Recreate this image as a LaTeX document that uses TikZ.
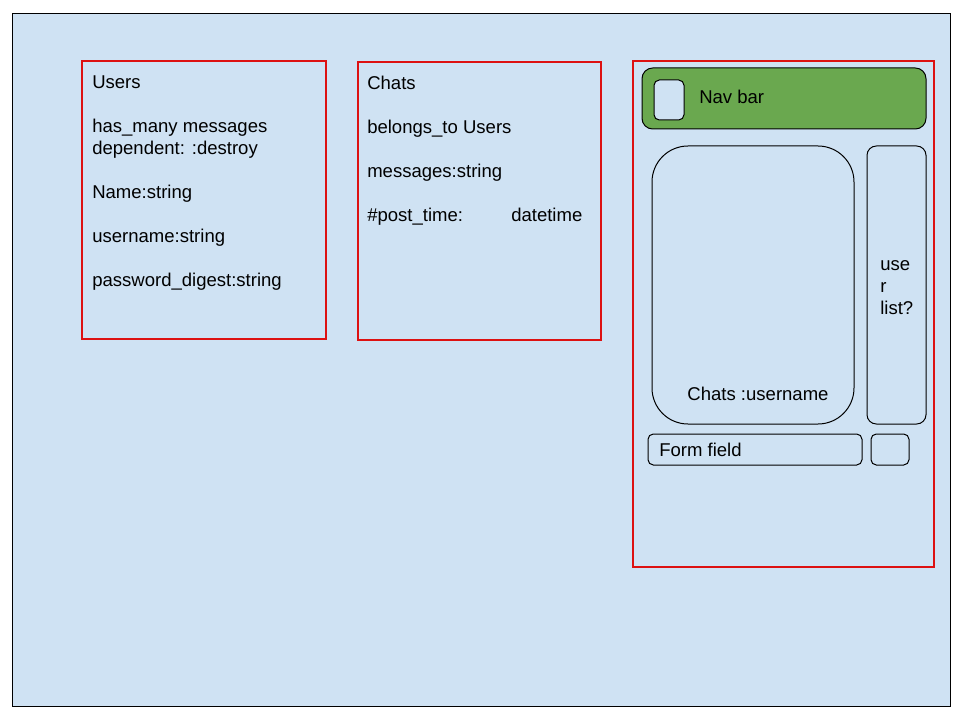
\documentclass[tikz,border=0pt]{standalone}
\usepackage{fontspec}
\setmainfont{Liberation Sans}
\definecolor{bgblue}{HTML}{CFE2F3}
\definecolor{boxred}{HTML}{DD1111}
\definecolor{navgreen}{HTML}{6AA84F}
\begin{document}
\begin{tikzpicture}[x=0.75pt,y=-0.75pt,
  redbox/.style={draw=boxred,line width=1.5pt},
  ui/.style={draw=black,line width=0.75pt},
  txt/.style={anchor=base west,inner sep=0pt,font=\fontsize{13.9}{16}\selectfont}]
\useasboundingbox (0,0) rectangle (960,720);
\fill[white] (0,0) rectangle (960,720);
\draw[fill=bgblue,line width=0.75pt] (12,14) rectangle (950,706);
% Users
\draw[redbox] (82,61) rectangle (326,339);
\node[txt] (u1) at (92,88.5) {Users};
\node[txt] (u2) at (92,132.5) {has\_many messages};
\node[txt] (u3) at (92,154.5) {dependent: :destroy};
\node[txt] (u4) at (92,198.5) {Name:string};
\node[txt] (u5) at (92,242.5) {username:string};
\node[txt] (u6) at (92,286.5) {password\_digest:string};
% Chats
\draw[redbox] (358,62) rectangle (601,340);
\node[txt] (c1) at (367,89.5) {Chats};
\node[txt] (c2) at (367,133.5) {belongs\_to Users};
\node[txt] (c3) at (367,177.5) {messages:string};
\node[txt] (c4) at (367,221.5) {\#post\_time:};
\node[txt] (c5) at (511,221.5) {datetime};
% UI mock
\draw[redbox] (633,61) rectangle (934,567);
\draw[ui,fill=navgreen,rounded corners=8pt] (642,68) rectangle (926,129);
\draw[ui,fill=bgblue,rounded corners=4pt] (654,80) rectangle (684,120);
\node[txt] (nav) at (699,103.5) {Nav bar};
\draw[ui,rounded corners=27pt] (652,146) rectangle (854,424);
\node[txt,anchor=base] (chu) at (758,400.5) {Chats :username};
\draw[ui,rounded corners=7pt] (867,146) rectangle (926,424);
\node[txt] (ul1) at (880,270.5) {use};
\node[txt] (ul2) at (880,292.5) {r};
\node[txt] (ul3) at (880,314.5) {list?};
\draw[ui,rounded corners=4pt] (648,434) rectangle (862,465);
\node[txt] (ff) at (659,456.5) {Form field};
\draw[ui,rounded corners=4pt] (871,434) rectangle (909,465);
\end{tikzpicture}
\end{document}
